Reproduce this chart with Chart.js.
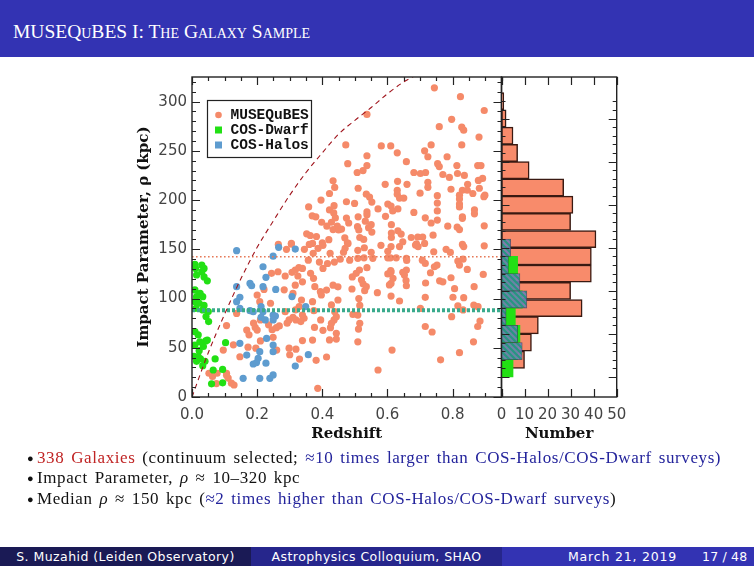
<!DOCTYPE html>
<html><head><meta charset="utf-8">
<script src="https://cdn.jsdelivr.net/npm/chart.js@4"></script>
<style>
html,body{margin:0;padding:0;width:754px;height:566px;overflow:hidden;background:#fff;}
body{position:relative;font-family:"Liberation Serif",serif;}
#titlebar{position:absolute;left:0;top:0;width:754px;height:57px;background:#3333b3;}
#titlebar span{position:absolute;left:13px;top:21px;color:#fff;font-size:19.5px;font-variant:small-caps;letter-spacing:0px;}
canvas{position:absolute;left:0;top:0;}
#bullets{position:absolute;left:27px;top:448px;font-size:17px;line-height:20.3px;color:#111;white-space:nowrap;letter-spacing:0.6px;word-spacing:2px;}
#bullets .b{display:inline-block;width:10px;font-size:11px;vertical-align:1px;letter-spacing:0;}
.red{color:#c02424}.blue{color:#24249c}
#footer{position:absolute;left:0;top:547px;width:754px;height:19px;display:flex;font-family:"DejaVu Sans",sans-serif;font-size:12.5px;letter-spacing:0.45px;color:#fff;line-height:19px;}
#footer div{height:19px;}
#f1{width:251px;background:#1a1a55;text-align:center;}
#f2{width:251px;background:#26268c;text-align:center;}
#f3{width:252px;background:#3333b3;position:relative;}
</style></head>
<body>
<div id="titlebar"><span>MUSEQuBES I: The Galaxy Sample</span></div>
<canvas id="c1" width="754" height="566"></canvas>
<canvas id="c2" width="754" height="566"></canvas>
<div id="bullets">
<div><span class="b">●</span><span class="red">338 Galaxies</span> (continuum selected; <span class="blue">≈10 times larger than COS-Halos/COS-Dwarf surveys)</span></div>
<div><span class="b">●</span>Impact Parameter, <i>ρ</i> ≈ 10–320 kpc</div>
<div><span class="b">●</span>Median <i>ρ</i> ≈ 150 kpc (<span class="blue">≈2 times higher than COS-Halos/COS-Dwarf surveys</span>)</div>
</div>
<div id="footer">
<div id="f1">S. Muzahid (Leiden Observatory)</div>
<div id="f2">Astrophysics Colloquium, SHAO</div>
<div id="f3"><span style="position:absolute;left:66px;letter-spacing:0.8px;">March 21, 2019</span><span style="position:absolute;left:200px;letter-spacing:0.2px;">17 / 48</span></div>
</div>
<script>
// ---------------- DATA ----------------
// MUSEQuBES galaxies: [redshift, impact parameter (kpc)]
const musequbes = [
[0.433,219.6],[0.438,212.8],[0.422,206.7],[0.358,193],[0.396,200],[0.369,184],[0.38,183],[0.422,190],[0.435,187],[0.44,181.9],
[0.428,177.5],[0.446,173.5],[0.433,170],[0.45,169.6],[0.414,173.5],[0.398,177.5],[0.42,159.8],[0.4,156.6],[0.382,163],[0.352,165.7],
[0.363,164],[0.472,256],[0.478,237],[0.459,170.5],[0.469,161.7],[0.474,181.7],[0.436,194.3],[0.474,198.3],[0.305,156],[0.37,156],
[0.744,314],[0.824,305],[0.897,291],[0.537,287],[0.797,282],[0.759,274.5],[0.828,274],[0.834,271],[0.881,264],[0.581,255],
[0.61,255],[0.734,256],[0.828,256],[0.714,250],[0.63,248],[0.537,245],[0.724,244],[0.783,244],[0.658,239],[0.537,235],
[0.754,237],[0.759,234],[0.813,235],[0.877,235],[0.887,235],[0.507,228],[0.525,230],[0.681,228],[0.701,227],[0.717,228],
[0.77,226],[0.79,223],[0.815,227],[0.836,225],[0.892,222],[0.593,216],[0.631,219],[0.66,216],[0.724,218],[0.724,213],
[0.846,216],[0.795,211],[0.83,210],[0.845,210],[0.882,212],[0.51,212],[0.899,205],[0.535,206],[0.545,203],[0.552,198],
[0.63,210],[0.63,206],[0.637,202],[0.65,202],[0.7,207],[0.753,204.5],[0.821,205],[0.821,201],[0.821,196],[0.821,193],
[0.601,196],[0.611,194],[0.616,189],[0.571,191],[0.499,196.6],[0.632,191],[0.681,187.5],[0.753,197],[0.753,189],[0.867,190],
[0.867,186],[0.51,183],[0.537,188],[0.537,185],[0.716,182],[0.753,179.7],[0.83,183],[0.83,181.5],[0.897,173.9],[0.508,173],
[0.512,169.6],[0.542,172],[0.552,167.5],[0.632,168.8],[0.612,166.5],[0.612,162],[0.642,165.5],[0.693,162.5],[0.708,162.5],[0.74,164.4],
[0.814,172.5],[0.821,170],[0.515,162],[0.896,203.5],[0.862,206.7],[0.785,173.5],[0.83,155],[0.734,176.7],[0.673,162],[0.689,155.5],
[0.594,183.5],[0.612,175],[0.55,175],[0.527,160],[0.532,178.6],[0.481,176.7],[0.477,156.6],[0.879,220],
[0.106,72.5],[0.137,84.9],[0.127,53],[0.147,40.9],[0.052,24.1],[0.063,20.8],[0.077,24.1],[0.106,24],[0.111,19.2],[0.121,14],
[0.129,12.2],[0.075,13.6],[0.194,70.7],[0.168,68],[0.175,63.1],[0.172,50.6],[0.196,49.6],[0.189,75],[0.21,78.3],[0.2,68],
[0.21,57],[0.246,68.3],[0.259,70.4],[0.249,60.6],[0.268,72.2],[0.235,73.3],[0.26,47.7],[0.221,109.3],[0.2,103.6],[0.208,96.8],
[0.241,95.2],[0.244,125.6],[0.264,127.2],[0.286,122.9],[0.283,108.9],[0.286,86.7],[0.298,78.3],[0.292,75],[0.31,105.2],[0.317,113.6],
[0.305,155.3],[0.307,126.6],[0.317,129],[0.328,131.3],[0.325,122.9],[0.339,130.6],[0.339,117],[0.336,98.5],[0.329,91.8],[0.339,83.3],
[0.319,78.3],[0.344,80],[0.334,76.6],[0.318,88.5],[0.31,80.9],[0.298,49.6],[0.319,48.6],[0.3,42.9],[0.33,38.5],[0.339,57.3],
[0.386,8.8],[0.357,139],[0.372,146],[0.387,151],[0.402,154],[0.424,146],[0.437,137],[0.416,135.6],[0.391,137],[0.402,130.6],
[0.364,125.6],[0.373,120.5],[0.377,112],[0.394,107],[0.413,108.6],[0.433,113.6],[0.397,103.6],[0.448,98.5],[0.428,93.5],[0.37,96.8],
[0.374,87.7],[0.395,78.3],[0.376,70.7],[0.402,67.7],[0.425,70.4],[0.436,78.3],[0.443,81.6],[0.428,74.9],[0.443,64.7],[0.438,86.7],
[0.37,57.8],[0.422,58],[0.443,58.8],[0.381,37.2],[0.413,40.6],[0.455,140],[0.448,111.9],[0.465,147],[0.265,155],[0.29,150],
[0.345,150],[0.36,155],[0.096,47.7],[0.106,22],
[0.479,156],[0.509,149],[0.509,140.8],[0.484,139],[0.528,141.4],[0.555,140.8],[0.601,141.4],[0.609,141.4],[0.658,140.8],[0.611,152.8],
[0.637,152.8],[0.647,157.7],[0.694,152.8],[0.714,156],[0.742,147.5],[0.793,146.8],[0.834,152.8],[0.897,153.5],[0.716,135.7],[0.744,132.3],
[0.752,134],[0.816,138],[0.821,134],[0.845,129.6],[0.732,126.2],[0.795,121.1],[0.894,124.5],[0.76,118],[0.514,129],[0.52,119],
[0.525,115],[0.535,112],[0.53,108],[0.491,109.7],[0.601,125],[0.611,127],[0.658,129],[0.652,123.9],[0.611,115.4],[0.606,113.8],
[0.658,113],[0.806,110],[0.866,112],[0.569,106],[0.512,100],[0.515,93],[0.611,102.5],[0.637,97.5],[0.716,101.2],[0.834,100.9],
[0.865,93.4],[0.878,91.7],[0.701,90],[0.816,92.7],[0.494,83.9],[0.509,83.2],[0.797,81.6],[0.515,74.8],[0.511,69],[0.884,77.2],
[0.877,71.6],[0.716,71.6],[0.737,66],[0.509,56],[0.864,56],[0.614,47.7],[0.821,45],[0.763,37.8],[0.571,27.4],
[0.529,151.6],[0.627,141.4],[0.647,126.6],[0.657,118.2],[0.659,138.7],[0.686,154.3],[0.707,139],[0.717,115.8],[0.77,117],[0.801,101.3],
[0.832,140],[0.832,88.4],[0.492,122],[0.504,125.6],[0.537,131.3],[0.601,148],[0.61,128.3],[0.617,120.5],[0.55,147],[0.78,150],
[0.47,151],[0.58,154]
];
// COS-Dwarf galaxies
const cosDwarf = [
[0.009,134.7],[0.03,134],[0.011,130.6],[0.037,130.6],[0.03,127],[0.014,123.9],[0.037,122],[0.047,118],[0.009,108.7],[0.025,105.2],
[0.014,101.9],[0.033,101.9],[0.009,96.8],[0.022,95.2],[0.037,93],[0.012,90.1],[0.033,88.4],[0.05,86.8],[0.043,81.7],[0.051,76.6],
[0.009,66.3],[0.019,63],[0.042,57],[0.047,57.8],[0.009,52.8],[0.035,51.3],[0.022,47],[0.006,41.3],[0.026,38.8],[0.04,36.2],
[0.014,36.2],[0.033,31.8],[0.103,55.2],[0.071,38.7],[0.065,27.4],[0.094,28],[0.06,13.4],[0.094,14.4],[0.024,56],[0.019,41]
];
// COS-Halos galaxies
const cosHalos = [
[0.137,148.6],[0.266,152],[0.317,150.2],[0.249,143],[0.218,132.3],[0.137,112],[0.178,115.4],[0.183,113],[0.227,121.5],[0.218,112],
[0.257,109.3],[0.307,102],[0.147,101.3],[0.137,96.8],[0.147,90],[0.178,87.7],[0.188,86.7],[0.212,91.8],[0.218,86.7],[0.212,80.9],
[0.225,78.3],[0.249,83.2],[0.256,82.2],[0.249,78.3],[0.349,91.8],[0.229,59.5],[0.147,54.5],[0.249,52.8],[0.208,46],[0.249,46],
[0.168,42.6],[0.203,39.3],[0.188,33.5],[0.198,35],[0.227,34.4],[0.317,31.4],[0.357,43],[0.157,19],[0.208,19],[0.239,19],[0.249,22.4]
];
// dashed curve
const curveZ   = [0, 0.05, 0.1, 0.15, 0.2, 0.25, 0.3, 0.35, 0.4, 0.45, 0.5, 0.55, 0.6, 0.65, 0.7, 0.75];
const curveRho = [0, 45, 84, 120, 152, 179, 205, 228, 248, 267, 281, 294, 308, 320, 329, 338];
// horizontal median lines (kpc)
const medianMuse = 142.5;
const medianCOS = 88;
// histograms
const museBinCenters = [20,40,60,80,100,120,140,160,180,200,220,240,260,280,300,320];
const museCounts     = [10,13,16,35,30,39,39,41,30,31,27,12,7,5,2,1];
const cosBinCenters  = [10,30,50,70,90,110,130,150];
const halosCounts    = [0,9,7,2,11,8,3,4];
const dwarfCounts    = [5,7,8,6,9,6,7,0];
// axis ranges / ticks
const zRange = [0, 0.95];
const rhoRange = [0, 325];
const numRange = [0, 50];
const xTickStep = 0.2, yTickStep = 50, nTickStep = 10;

// ---------------- HELPERS ----------------
const isMult = (v, s) => Math.abs(v / s - Math.round(v / s)) < 1e-6;
const toPts = arr => arr.map(p => ({x: p[0], y: p[1]}));
const COL = {muse:'#f58a69', dwarf:'#22e014', halos:'#5e9ccf'};
const stepTicks = (step) => (s) => {
  const t = [];
  for (let i = Math.ceil(s.min / step - 1e-9); i * step <= s.max + 1e-9; i++) t.push({value: +(i * step).toFixed(6)});
  s.ticks = t;
};

function makeHatch() {
  const c = document.createElement('canvas'); c.width = 6; c.height = 6;
  const g = c.getContext('2d');
  g.fillStyle = 'rgba(115,122,182,0.9)'; g.fillRect(0, 0, 6, 6);
  g.strokeStyle = 'rgba(36,150,128,0.95)'; g.lineWidth = 2.2;
  g.beginPath();
  g.moveTo(-3, 3); g.lineTo(3, 9);
  g.moveTo(0, 0); g.lineTo(6, 6);
  g.moveTo(3, -3); g.lineTo(9, 3);
  g.stroke();
  return g.createPattern(c, 'repeat');
}

const idlFrame = {
  id: 'idlFrame',
  afterDatasetsDraw(chart, args, o) {
    const {ctx, chartArea: a} = chart;
    const xs = chart.scales.x, ys = chart.scales.y;
    ctx.save();
    ctx.strokeStyle = '#222'; ctx.lineWidth = 1.4;
    ctx.strokeRect(a.left, a.top, a.right - a.left, a.bottom - a.top);
    ctx.lineWidth = 1.2;
    ctx.beginPath();
    let n = Math.floor((xs.max - xs.min) / o.xMinor + 1e-6);
    for (let i = 0; i <= n; i++) {
      const v = xs.min + i * o.xMinor;
      const L = isMult(v, o.xMajor) ? 8 : 4;
      const px = Math.round(xs.getPixelForValue(v)) + 0.5;
      ctx.moveTo(px, a.bottom); ctx.lineTo(px, a.bottom - L);
      ctx.moveTo(px, a.top); ctx.lineTo(px, a.top + L);
    }
    n = Math.floor((ys.max - ys.min) / o.yMinor + 1e-6);
    for (let i = 0; i <= n; i++) {
      const v = ys.min + i * o.yMinor;
      const L = isMult(v, o.yMajor) ? 8 : 4;
      const py = Math.round(ys.getPixelForValue(v)) + 0.5;
      ctx.moveTo(a.left, py); ctx.lineTo(a.left + L, py);
      ctx.moveTo(a.right, py); ctx.lineTo(a.right - L, py);
    }
    ctx.stroke();
    ctx.restore();
  }
};

const boxLegend = {
  id: 'boxLegend',
  afterDatasetsDraw(chart, args, o) {
    if (!o.items) return;
    const {ctx, chartArea: a} = chart;
    const x0 = a.left + 15.5, y0 = a.top + 23.5, w = 104, h = 57;
    ctx.save();
    ctx.fillStyle = '#fff'; ctx.fillRect(x0, y0, w, h);
    ctx.strokeStyle = '#222'; ctx.lineWidth = 1.2; ctx.strokeRect(x0, y0, w, h);
    ctx.font = 'bold 14.5px "Liberation Mono", monospace';
    ctx.textBaseline = 'middle'; ctx.fillStyle = '#111';
    o.items.forEach((it, i) => {
      const ds = chart.data.datasets.find(d => d.label === it.label);
      const cy = y0 + 14.5 + i * 15;
      ctx.fillStyle = ds.backgroundColor;
      if (it.shape === 'circle') { ctx.beginPath(); ctx.arc(x0 + 11, cy, 3.3, 0, Math.PI * 2); ctx.fill(); }
      else ctx.fillRect(x0 + 7.5, cy - 3.5, 7, 7);
      ctx.fillStyle = '#111';
      ctx.fillText(it.label, x0 + 23, cy + 0.5);
    });
    ctx.restore();
  }
};

const tickFont = {family: '"DejaVu Sans", sans-serif', size: 15};
const titleFont = {family: '"DejaVu Serif", serif', size: 15, weight: 'bold'};

// ---------------- SCATTER ----------------
new Chart(document.getElementById('c1'), {
  type: 'scatter',
  data: {datasets: [
    {label: 'curve', type: 'line', data: curveZ.map((z, i) => ({x: z, y: curveRho[i]})),
     borderColor: '#a0141c', borderWidth: 1.1, borderDash: [5, 4], pointRadius: 0, fill: false,
     cubicInterpolationMode: 'monotone', order: 0},
    {label: 'medMuse', type: 'line', data: [{x: zRange[0], y: medianMuse}, {x: zRange[1], y: medianMuse}],
     borderColor: '#e67a58', borderWidth: 1.6, borderDash: [1.6, 2.4], pointRadius: 0, order: 0},
    {label: 'medCOS', type: 'line', data: [{x: zRange[0], y: medianCOS}, {x: zRange[1], y: medianCOS}],
     borderColor: '#3aaa8c', borderWidth: 4, borderDash: [3, 2], pointRadius: 0, order: 0},
    {label: 'COS-Halos', data: toPts(cosHalos), backgroundColor: COL.halos, pointRadius: 3.6, borderWidth: 0, order: 1},
    {label: 'COS-Dwarf', data: toPts(cosDwarf), backgroundColor: COL.dwarf, pointRadius: 3.6, borderWidth: 0, order: 2},
    {label: 'MUSEQuBES', data: toPts(musequbes), backgroundColor: COL.muse, pointRadius: 3.6, borderWidth: 0, order: 3}
  ]},
  options: {
    responsive: false, animation: false, devicePixelRatio: 1,
    layout: {padding: {left: 132, top: 77, right: 252.5, bottom: 123}},
    plugins: {legend: {display: false}, tooltip: {enabled: false},
      idlFrame: {xMajor: xTickStep, xMinor: 0.05, yMajor: yTickStep, yMinor: 10},
      boxLegend: {items: [{label: 'MUSEQuBES', shape: 'circle'}, {label: 'COS-Dwarf', shape: 'square'}, {label: 'COS-Halos', shape: 'square'}]}},
    scales: {
      x: {type: 'linear', min: zRange[0], max: zRange[1],
          ticks: {font: tickFont, color: '#444', padding: 9, autoSkip: false, maxRotation: 0,
                  callback: v => Number(v).toFixed(1)},
          afterBuildTicks: stepTicks(xTickStep),
          grid: {display: false, drawTicks: false}, border: {display: false},
          title: {display: true, text: 'Redshift', font: titleFont, color: '#111', padding: 0},
          afterFit: s => { s.height = 46; }},
      y: {type: 'linear', min: rhoRange[0], max: rhoRange[1],
          ticks: {font: tickFont, color: '#444', padding: 5, autoSkip: false},
          afterBuildTicks: stepTicks(yTickStep),
          grid: {display: false, drawTicks: false}, border: {display: false},
          title: {display: true, text: 'Impact Parameter, ρ (kpc)', font: titleFont, color: '#111', padding: {top: 3, bottom: 0}},
          afterFit: s => { s.width = 60; }}
    }
  },
  plugins: [idlFrame, boxLegend]
});

// ---------------- HISTOGRAM ----------------
const hatch = makeHatch();
const barCommon = {grouped: false, barPercentage: 1, categoryPercentage: 1, borderSkipped: false};
new Chart(document.getElementById('c2'), {
  type: 'bar',
  data: {datasets: [
    Object.assign({label: 'COS-Halos', data: cosBinCenters.map((c, i) => ({x: halosCounts[i], y: c})),
      yAxisID: 'y2', backgroundColor: hatch, borderColor: 'rgba(50,50,90,0.7)', borderWidth: 0.8, order: 0}, barCommon),
    Object.assign({label: 'COS-Dwarf', data: cosBinCenters.map((c, i) => ({x: dwarfCounts[i], y: c})),
      yAxisID: 'y2', backgroundColor: COL.dwarf, borderWidth: 0, order: 1}, barCommon),
    Object.assign({label: 'MUSEQuBES', data: museBinCenters.map((c, i) => ({x: museCounts[i], y: c})),
      yAxisID: 'y', backgroundColor: '#f88b6b', borderColor: '#3a1a12', borderWidth: 1.5, order: 2}, barCommon)
  ]},
  options: {
    indexAxis: 'y', responsive: false, animation: false, devicePixelRatio: 1,
    layout: {padding: {left: 501.5, top: 77, right: 137.3, bottom: 123}},
    plugins: {legend: {display: false}, tooltip: {enabled: false},
      idlFrame: {xMajor: nTickStep, xMinor: nTickStep, yMajor: yTickStep, yMinor: 10}},
    scales: {
      x: {type: 'linear', min: numRange[0], max: numRange[1],
          ticks: {font: tickFont, color: '#444', padding: 9, autoSkip: false, maxRotation: 0},
          afterBuildTicks: stepTicks(nTickStep),
          grid: {display: false, drawTicks: false}, border: {display: false},
          title: {display: true, text: 'Number', font: titleFont, color: '#111', padding: 0},
          afterFit: s => { s.height = 46; }},
      y: {type: 'linear', min: rhoRange[0], max: rhoRange[1], display: false},
      y2: {type: 'linear', min: rhoRange[0], max: rhoRange[1], display: false}
    }
  },
  plugins: [idlFrame]
});
</script>
</body></html>
